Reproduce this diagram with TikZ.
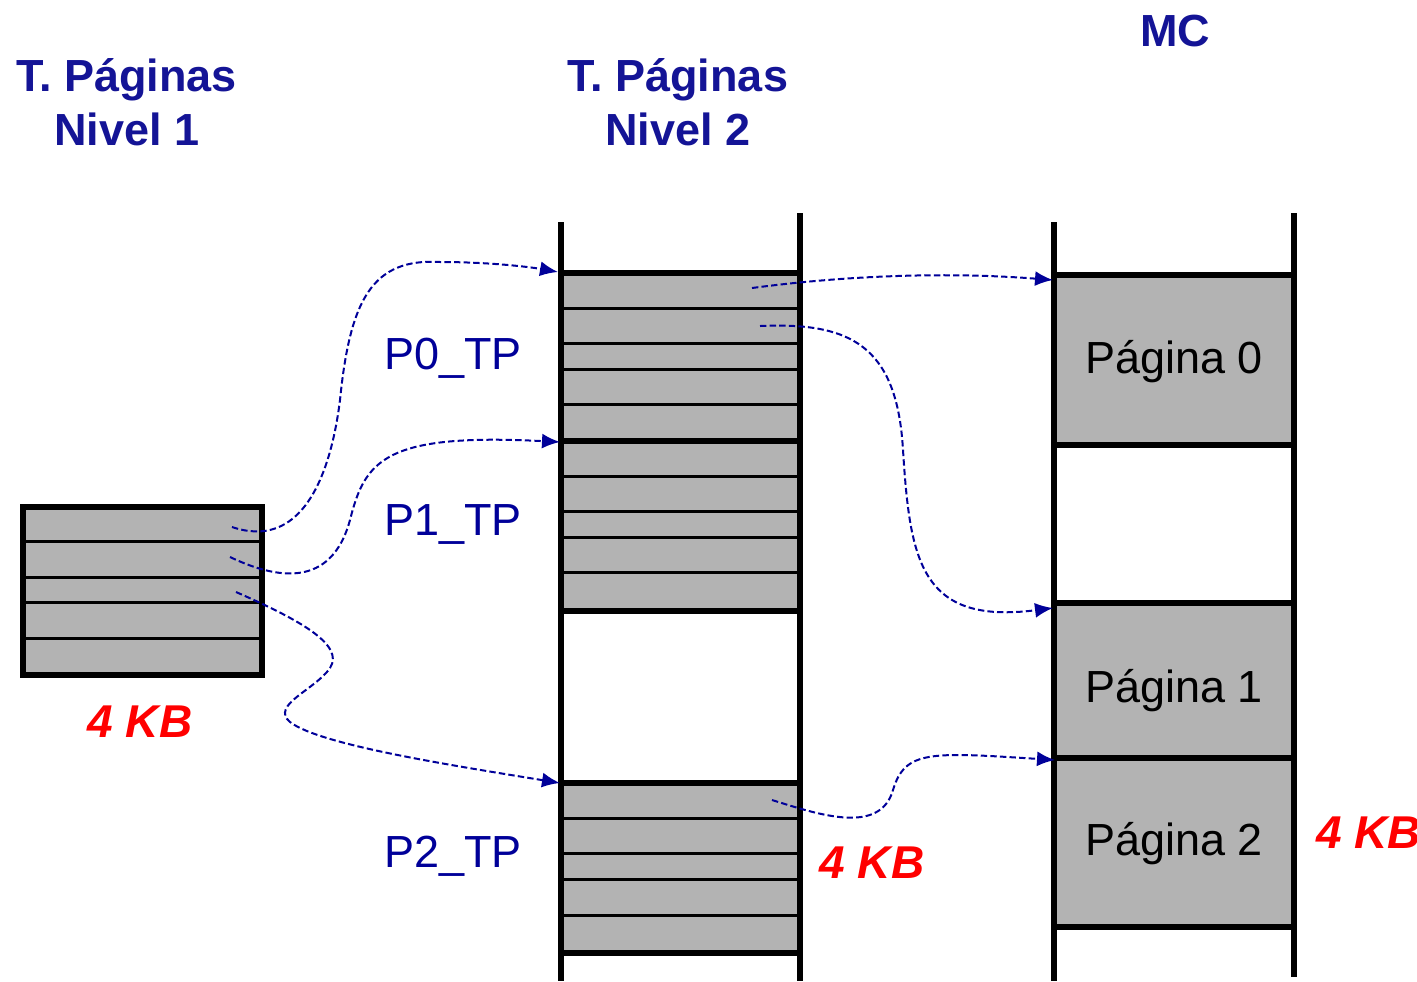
\documentclass[tikz,border=0pt]{standalone}
\usepackage{fontspec}
\setmainfont{Liberation Sans}
\usetikzlibrary{arrows.meta}
\definecolor{hblue}{RGB}{20,20,150}
\definecolor{cblue}{RGB}{0,0,153}
\definecolor{cgray}{RGB}{179,179,179}
\definecolor{cred}{RGB}{255,0,0}
\tikzset{
  thickln/.style={line width=3pt,black},
  thinln/.style={line width=1.5pt,black},
  heading/.style={text=hblue,font=\bfseries\fontsize{22.5}{27}\selectfont,align=center,inner sep=0pt},
  tplabel/.style={text=cblue,font=\fontsize{22.5}{27}\selectfont,inner sep=0pt},
  pglabel/.style={text=black,font=\fontsize{22.5}{27}\selectfont,inner sep=0pt},
  kb/.style={text=cred,font=\bfseries\itshape\fontsize{23}{27}\selectfont,inner sep=0pt},
  link/.style={cblue,line width=1pt,dash pattern=on 3.2pt off 1.6pt,-{Latex[length=9pt,width=7.5pt]}},
}
\begin{document}
\begin{tikzpicture}[x=0.5pt,y=-0.5pt]
\useasboundingbox (0,0) rectangle (1417,981);
% headings
\node[heading] (h1) at (127,102) {T. Páginas\\Nivel 1};
\node[heading] (h2) at (678,102) {T. Páginas\\Nivel 2};
\node[heading] (mc) at (1175,31) {MC};
% left table
\fill[cgray] (23,507) rectangle (262,675);
\foreach \y in {541,577,602,638} \draw[thinln] (23,\y) -- (262,\y);
\draw[thickln] (23,507) rectangle (262,675);
\node[kb] (kb1) at (140,722) {4 KB};
% middle column
\fill[cgray] (561,273) rectangle (800,611);
\fill[cgray] (561,783) rectangle (800,953);
\foreach \y in {308,343,369,404,476,511,537,572,818,853,879,915} \draw[thinln] (561,\y) -- (800,\y);
\foreach \y in {273,441,611,783,953} \draw[thickln] (561,\y) -- (800,\y);
\draw[thickln] (561,222) -- (561,981);
\draw[thickln] (800,213) -- (800,981);
\node[tplabel] (p0) at (453,358) {P0\_TP};
\node[tplabel] (p1) at (453,524) {P1\_TP};
\node[tplabel] (p2) at (453,856) {P2\_TP};
\node[kb] (kb2) at (872,863) {4 KB};
% right column
\fill[cgray] (1054,275) rectangle (1294,445);
\fill[cgray] (1054,603) rectangle (1294,927);
\foreach \y in {275,445,603,758,927} \draw[thickln] (1054,\y) -- (1294,\y);
\draw[thickln] (1054,222) -- (1054,981);
\draw[thickln] (1294,213) -- (1294,977);
\node[pglabel] (pg0) at (1174,362) {Página 0};
\node[pglabel] (pg1) at (1174,691) {Página 1};
\node[pglabel] (pg2) at (1174,844) {Página 2};
\node[kb,anchor=west] (kb3) at (1316,833) {4 KB};
% connector end points
\coordinate (s1) at (232,527);
\coordinate (s2) at (230,557);
\coordinate (s3) at (236,592);
\coordinate (t0) at (558,272);
\coordinate (t1) at (560,442);
\coordinate (t2) at (560,783);
\coordinate (s4) at (752,288);
\coordinate (s5) at (760,326);
\coordinate (s6) at (772,800);
\coordinate (m0) at (1053,280);
\coordinate (m1) at (1053,608);
\coordinate (m2) at (1055,760);
% connectors
\draw[link] (s1) .. controls (300,550) and (330,480) .. (340,400) .. controls (350,300) and (372,258) .. (440,262) .. controls (490,262) and (530,267) .. (t0);
\draw[link] (s2) .. controls (295,588) and (335,575) .. (350,520) .. controls (365,460) and (385,433) .. (t1);
\draw[link] (s3) .. controls (300,620) and (345,645) .. (330,668) .. controls (315,690) and (270,705) .. (290,722) .. controls (320,745) and (450,765) .. (t2);
\draw[link] (s4) .. controls (850,275) and (950,272) .. (m0);
\draw[link] (s5) .. controls (850,322) and (897,345) .. (903,450) .. controls (910,560) and (920,625) .. (m1);
\draw[link] (s6) .. controls (820,815) and (880,835) .. (893,790) .. controls (905,750) and (930,752) .. (m2);
\end{tikzpicture}
\end{document}
